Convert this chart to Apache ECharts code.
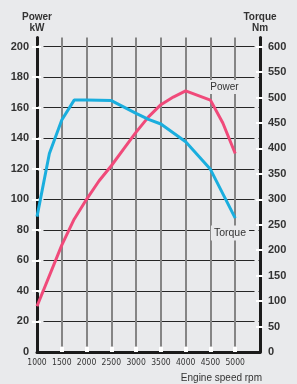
<!DOCTYPE html>
<html>
<head>
<meta charset="utf-8">
<script src="https://cdn.jsdelivr.net/npm/echarts@6/dist/echarts.min.js"></script>
<style>
  html, body { margin: 0; padding: 0; background: #e9eaec; }
  #main { width: 297px; height: 384px; }
</style>
</head>
<body>
<div id="main"></div>
<script>
// values
var rpmTicks = [1000, 1500, 2000, 2500, 3000, 3500, 4000, 4500, 5000];
var kwTicks = [0, 20, 40, 60, 80, 100, 120, 140, 160, 180, 200];
var nmTicks = [0, 50, 100, 150, 200, 250, 300, 350, 400, 450, 500, 550, 600];

var powerRpm = [1000, 1500, 1750, 2000, 2250, 2500, 2750, 3000, 3250, 3500, 3750, 4000, 4500, 4750, 5000];
var powerKw = [30, 70, 87, 100, 112, 122, 133, 144, 154, 162, 167, 171, 165, 150, 130];

var torqueRpm = [1000, 1250, 1500, 1750, 2000, 2500, 3000, 3250, 3500, 4000, 4500, 5000];
var torqueNm = [266, 390, 456, 495, 495, 494, 469, 457, 448, 413, 359, 263];

var BG = '#e9eaec';
var INK = '#333333';

function pairs(xs, ys) {
  var out = [];
  for (var i = 0; i < xs.length; i++) {
    out.push([xs[i], ys[i]]);
  }
  return out;
}

var myChart = echarts.init(document.getElementById('main'));

// helper for the "mask" axes that only draw ticks (gaps in lines)
function maskAxis(base, extra) {
  return Object.assign({
    axisLine: { show: false },
    axisLabel: { show: false },
    splitLine: { show: false }
  }, base, extra);
}

var option = {
  backgroundColor: BG,
  animation: false,
  grid: {
    left: 37,
    right: 37,
    top: 37.5,
    bottom: 32,
    outerBoundsMode: 'none'
  },
  xAxis: [
    {
      type: 'value',
      min: 1000,
      max: 5500,
      axisLine: { lineStyle: { color: '#1b1b1b', width: 3 } },
      axisTick: { show: false, customValues: rpmTicks.slice(1) },
      axisLabel: {
        customValues: rpmTicks,
        formatter: function(v) { return String(v); },
        color: INK,
        fontSize: 8.5,
        fontFamily: "'Liberation Sans Narrow', 'DejaVu Sans Condensed', sans-serif",
        margin: 6
      },
      splitLine: { show: true, lineStyle: { color: '#858585', width: 2 } }
    },
    maskAxis({ type: 'value', min: 1000, max: 5500, position: 'bottom', offset: -1.5 }, {
      axisTick: { show: true, inside: true, length: 4, customValues: rpmTicks.slice(1), lineStyle: { color: BG, width: 3 } }
    }),
    maskAxis({ type: 'value', min: 1000, max: 5500, position: 'bottom', offset: 2 }, {
      axisTick: { show: true, inside: true, length: 5, customValues: rpmTicks.slice(1), lineStyle: { color: '#ffffff', width: 4 } }
    })
  ],
  yAxis: [
    {
      type: 'value',
      min: 0,
      max: 206,
      position: 'left',
      axisLine: { show: true, lineStyle: { color: '#1b1b1b', width: 3 } },
      axisTick: { show: false, customValues: kwTicks },
      axisLabel: {
        customValues: kwTicks,
        color: INK,
        fontSize: 11,
        fontWeight: 'bold',
        fontFamily: "'Liberation Sans', Arial, sans-serif",
        margin: 8
      },
      splitLine: { show: true, lineStyle: { color: '#262626', width: 1.2 } }
    },
    {
      type: 'value',
      min: 0,
      max: 618,
      position: 'right',
      axisLine: { show: true, lineStyle: { color: '#1b1b1b', width: 3 } },
      axisTick: { show: false, customValues: nmTicks },
      axisLabel: {
        customValues: nmTicks,
        color: INK,
        fontSize: 11,
        fontWeight: 'bold',
        fontFamily: "'Liberation Sans', Arial, sans-serif",
        margin: 8
      },
      splitLine: { show: false }
    },
    // keep horizontal grid lines off the left axis
    maskAxis({ type: 'value', min: 0, max: 206, position: 'left', offset: -1.5 }, {
      axisTick: { show: true, inside: true, length: 5, customValues: kwTicks.slice(1), lineStyle: { color: BG, width: 3 } }
    }),
    // white breaks in the left axis
    maskAxis({ type: 'value', min: 0, max: 206, position: 'left', offset: 5 }, {
      axisTick: { show: true, inside: true, length: 9, customValues: kwTicks.slice(1), lineStyle: { color: '#ffffff', width: 2 } }
    }),
    // keep horizontal grid lines off the right axis
    maskAxis({ type: 'value', min: 0, max: 206, position: 'right', offset: -1.5 }, {
      axisTick: { show: true, inside: true, length: 4, customValues: kwTicks.slice(1), lineStyle: { color: BG, width: 3 } }
    }),
    // white breaks in the right axis
    maskAxis({ type: 'value', min: 0, max: 618, position: 'right', offset: 3 }, {
      axisTick: { show: true, inside: true, length: 7, customValues: nmTicks.slice(1), lineStyle: { color: '#ffffff', width: 2 } }
    })
  ],
  series: [
    {
      name: 'Power',
      type: 'line',
      xAxisIndex: 0,
      yAxisIndex: 0,
      data: pairs(powerRpm, powerKw),
      symbol: 'none',
      lineStyle: { color: '#f04a7a', width: 3 },
      z: 3
    },
    {
      name: 'Torque',
      type: 'line',
      xAxisIndex: 0,
      yAxisIndex: 1,
      data: pairs(torqueRpm, torqueNm),
      symbol: 'none',
      lineStyle: { color: '#1aaede', width: 3 },
      z: 3
    }
  ],
  graphic: [
    {
      type: 'text', x: 37, y: 12,
      style: { text: 'Power\nkW', fill: INK, font: "bold 10px 'Liberation Sans', Arial, sans-serif", align: 'center', verticalAlign: 'top', lineHeight: 11 }
    },
    {
      type: 'text', x: 260, y: 12,
      style: { text: 'Torque\nNm', fill: INK, font: "bold 10px 'Liberation Sans', Arial, sans-serif", align: 'center', verticalAlign: 'top', lineHeight: 11 }
    },
    {
      type: 'text', x: 262, y: 378,
      style: { text: 'Engine speed rpm', fill: INK, font: "10px 'Liberation Sans', Arial, sans-serif", align: 'right', verticalAlign: 'middle' }
    },
    {
      type: 'text', x: 224.5, y: 87, z: 10,
      style: { text: 'Power', fill: INK, font: "10px 'Liberation Sans', Arial, sans-serif", align: 'center', verticalAlign: 'middle', backgroundColor: BG, padding: [2, 2] }
    },
    {
      type: 'text', x: 230, y: 233, z: 10,
      style: { text: 'Torque', fill: INK, font: "10.5px 'Liberation Sans', Arial, sans-serif", align: 'center', verticalAlign: 'middle', backgroundColor: BG, padding: [2, 3] }
    }
  ]
};

myChart.setOption(option);
</script>
</body>
</html>
